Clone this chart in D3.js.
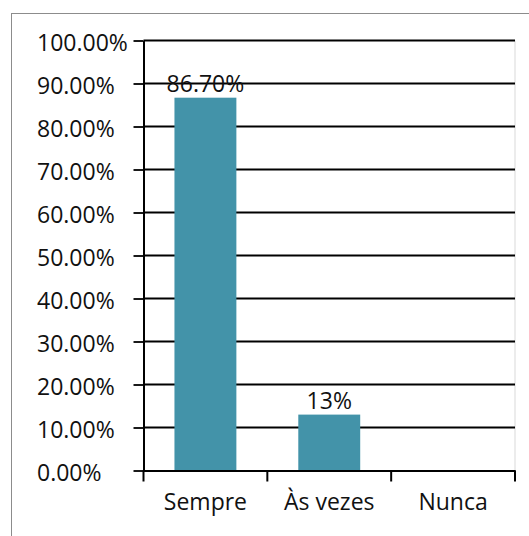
<!DOCTYPE html>
<html>
<head>
<meta charset="utf-8">
<script src="https://cdn.jsdelivr.net/npm/d3@7"></script>
<style>
  body { margin: 0; background: #fff; }
  text { font-family: "Open Sans", sans-serif; fill: #111; }
</style>
</head>
<body>
<div id="chart"></div>
<script>
var categories = ["Sempre", "Às vezes", "Nunca"];
var values = [86.7, 13, 0];
var valueLabels = ["86.70%", "13%", ""];
var yTicks = [0, 10, 20, 30, 40, 50, 60, 70, 80, 90, 100];

function drawBarChart() {
    var W = 529, H = 536;
    var plot = {left: 143.5, right: 515, top: 40.5, bottom: 470.5};
    var fontSize = "23px";

    var svg = d3.select("#chart")
      .append("svg")
        .attr("width", W)
        .attr("height", H);

    // outer chart border (open at right and bottom, as in the picture)
    svg.append("rect")
      .attr("x", 11.5)
      .attr("y", 13.5)
      .attr("width", 600)
      .attr("height", 600)
      .attr("fill", "none")
      .attr("stroke", "#8c8c8c")
      .attr("stroke-width", 1);

    var y = d3.scaleLinear()
      .domain([0, 100])
      .range([plot.bottom, plot.top]);

    var x = d3.scaleBand()
      .domain(categories)
      .range([plot.left, plot.right])
      .padding(0);

    // plot area right edge
    svg.append("line")
      .attr("x1", plot.right).attr("x2", plot.right)
      .attr("y1", plot.top).attr("y2", plot.bottom)
      .attr("stroke", "#d9d9d9");

    // gridlines
    svg.append("g").selectAll("line")
        .data(yTicks.filter(function(d) { return d > 0; }))
      .enter().append("line")
        .attr("x1", plot.left)
        .attr("x2", plot.right)
        .attr("y1", function(d) { return y(d); })
        .attr("y2", function(d) { return y(d); })
        .attr("stroke", "#000")
        .attr("stroke-width", 1.8);

    // bars
    svg.append("g").selectAll(".bar")
        .data(categories)
      .enter().append("rect")
        .attr("class", "bar")
        .attr("x", function(d) { return x(d) + x.bandwidth() / 4; })
        .attr("width", x.bandwidth() / 2)
        .attr("y", function(d, i) { return y(values[i]); })
        .attr("height", function(d, i) { return y(0) - y(values[i]); })
        .attr("fill", "#4393a9");

    // value labels
    svg.append("g").selectAll("text")
        .data(categories)
      .enter().append("text")
        .attr("x", function(d) { return x(d) + x.bandwidth() / 2; })
        .attr("y", function(d, i) { return y(values[i]) - 6; })
        .attr("text-anchor", "middle")
        .style("font-size", fontSize)
        .text(function(d, i) { return valueLabels[i]; });

    // Y axis
    var yAxis = svg.append("g")
      .attr("transform", "translate(" + plot.left + ",0)")
      .call(d3.axisLeft(y).tickValues(yTicks).tickSize(10).tickSizeOuter(0)
            .tickFormat(function(d) { return d.toFixed(2) + "%"; }));
    yAxis.select(".domain").attr("stroke", "#000").attr("stroke-width", 2);
    yAxis.selectAll(".tick line").attr("stroke", "#000").attr("stroke-width", 1.8);
    yAxis.selectAll(".tick text")
      .attr("x", 37 - plot.left)
      .attr("dy", "0.42em")
      .attr("text-anchor", "start")
      .attr("font-family", null)
      .attr("font-size", null)
      .style("font-size", fontSize);

    // X axis
    var xAxis = svg.append("g")
      .attr("transform", "translate(0," + plot.bottom + ")")
      .call(d3.axisBottom(x).tickSize(0).tickSizeOuter(0));
    xAxis.select(".domain").attr("stroke", "#000").attr("stroke-width", 2);
    xAxis.selectAll(".tick text")
      .attr("y", 39)
      .attr("dy", 0)
      .attr("font-family", null)
      .attr("font-size", null)
      .style("font-size", fontSize);

    // category separators
    var bounds = categories.map(function(d) { return x(d); }).concat([plot.right]);
    xAxis.append("g").selectAll("line")
        .data(bounds)
      .enter().append("line")
        .attr("x1", function(d) { return d; })
        .attr("x2", function(d) { return d; })
        .attr("y1", 0)
        .attr("y2", 11)
        .attr("stroke", "#000")
        .attr("stroke-width", 2);
}

drawBarChart();
</script>
</body>
</html>
